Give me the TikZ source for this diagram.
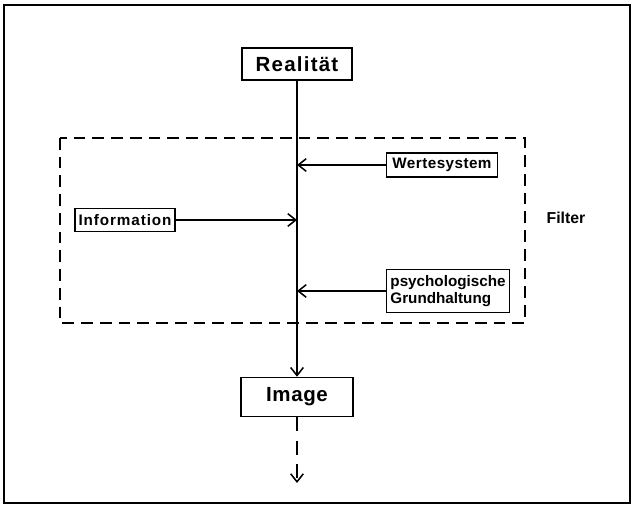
\documentclass[tikz,border=0pt]{standalone}
\usepackage{fontspec}
\setmainfont{Liberation Sans}
\usetikzlibrary{arrows.meta}

\begin{document}
\begin{tikzpicture}[x=0.03cm, y=-0.03cm, line width=1.3pt,
    box/.style={draw, rectangle, inner sep=0pt, font=\bfseries\fontsize{13}{15}\selectfont},
    bigbox/.style={box, font=\bfseries\fontsize{17.5}{20}\selectfont},
    tip/.style={-{Straight Barb[length=2.4mm, width=3.8mm, line width=1.3pt]}}]
            \useasboundingbox (0,0) rectangle (633,506);
            \draw[line width=1pt] (4,5) rectangle (630,503);

            \node (real) at (297,64) [bigbox, minimum width=3.3cm, minimum height=0.96cm] {\addfontfeatures{LetterSpace=6}Realität};
            \node (image) at (297,397) [bigbox, minimum width=3.36cm, minimum height=1.17cm] {\addfontfeatures{LetterSpace=3}Image};
            \node (werte) at (442,165) [box, minimum width=3.33cm, minimum height=0.72cm] {\addfontfeatures{LetterSpace=3}Wertesystem};
            \node (info) at (125,220) [box, minimum width=3.0cm, minimum height=0.69cm] {\addfontfeatures{LetterSpace=6}Information};
            \node (psych) at (448,291) [box, minimum width=3.69cm, minimum height=1.29cm, align=left] {psychologische\\Grundhaltung};
            \node (filter) at (566,218) [font=\bfseries\fontsize{13.5}{15}\selectfont] {Filter};
            \coordinate (end) at (297,483);

            \draw[dash pattern=on 10pt off 6pt] (60,138) rectangle (525,323);

            \draw[tip] (real) -- (image);
            \foreach \n in {werte, info, psych} {
                \draw[tip] (\n) -- (\n -| real);
            }
            \draw[tip, dash pattern=on 12pt off 8pt] (image) -- (end);
        \end{tikzpicture}
\end{document}
